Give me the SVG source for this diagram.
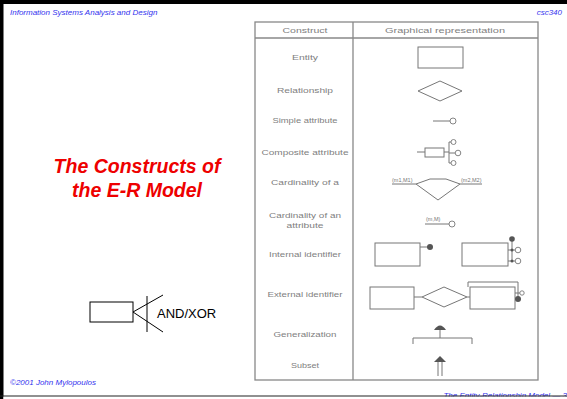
<svg xmlns="http://www.w3.org/2000/svg" width="567" height="399" viewBox="0 0 567 399">
<style>
.hdr{font-family:"Liberation Sans",Arial,sans-serif;font-style:italic;font-size:8px;fill:#3333ee}
.title{font-family:"Liberation Sans",Arial,sans-serif;font-style:italic;font-weight:bold;font-size:19.5px;fill:#ee0000;text-anchor:middle}
.lbl{font-family:"Liberation Sans",Arial,sans-serif;font-size:8px;fill:#808080;text-anchor:middle}
.small{font-family:"Liberation Sans",Arial,sans-serif;font-size:5.5px;fill:#777}
.tb{fill:none;stroke:#888;stroke-width:1.3}
.sh{fill:none;stroke:#777;stroke-width:1}
.dot{fill:#555;stroke:none}
.oc{fill:#fff;stroke:#777;stroke-width:0.9}
.ln{fill:none;stroke:#000;stroke-width:1}
</style>
<rect width="567" height="399" fill="#fff"/>
<!-- frame -->
<rect x="0" y="0" width="567" height="4" fill="#000"/>
<rect x="0" y="0" width="3.5" height="399" fill="#000"/>
<text class="hdr" x="10" y="15">Information Systems Analysis and Design</text>
<text class="hdr" x="562" y="15" text-anchor="end">csc340</text>
<text class="hdr" x="10" y="385">©2001 John Mylopoulos</text>
<text class="hdr" x="567" y="398" text-anchor="end" font-size="9">The Entity-Relationship Model  — 3</text>
<rect x="3.5" y="396.5" width="564" height="3" fill="#fff"/>
<line x1="0" y1="396" x2="567" y2="396" stroke="#222" stroke-width="1.2"/>

<!-- title -->
<g id="title">
<text class="title" x="137" y="173">The Constructs of</text>
<text class="title" x="137" y="197">the E-R Model</text>
</g>

<!-- AND/XOR legend -->
<g id="andxor">
<rect class="ln" x="90" y="302" width="43" height="20"/>
<line class="ln" x1="147" y1="296" x2="147" y2="332"/>
<polyline class="ln" points="163,295 133,312 163,332"/>
<text x="157" y="318" font-family="Liberation Sans,Arial,sans-serif" font-size="13" fill="#000">AND/XOR</text>
</g>

<!-- table -->
<g id="table">
<rect class="tb" x="255" y="22" width="283" height="358"/>
<line class="tb" x1="353" y1="22" x2="353" y2="380"/>
<line class="tb" x1="255" y1="38" x2="538" y2="38"/>
<text class="lbl" x="305" y="33" textLength="45" lengthAdjust="spacingAndGlyphs">Construct</text>
<text class="lbl" x="445" y="33" textLength="120" lengthAdjust="spacingAndGlyphs">Graphical representation</text>
</g>

<g id="entity">
<text class="lbl" x="305" y="60" textLength="26" lengthAdjust="spacingAndGlyphs">Entity</text>
<rect class="sh" x="418" y="47" width="45" height="21"/>
</g>
<g id="relationship">
<text class="lbl" x="305" y="93" textLength="56" lengthAdjust="spacingAndGlyphs">Relationship</text>
<polygon class="sh" points="418,91 440,81 462,91 440,101"/>
</g>
<g id="simple-attribute">
<text class="lbl" x="305" y="123" textLength="65" lengthAdjust="spacingAndGlyphs">Simple attribute</text>
<line class="sh" x1="433" y1="121" x2="450" y2="121"/>
<circle class="oc" cx="453" cy="121" r="3"/>
</g>
<g id="composite-attribute">
<text class="lbl" x="305" y="155" textLength="87" lengthAdjust="spacingAndGlyphs">Composite attribute</text>
<line class="sh" x1="417" y1="152" x2="425" y2="152"/>
<rect class="sh" x="425" y="148" width="19" height="9"/>
<line class="sh" x1="444" y1="152" x2="449" y2="152"/>
<line class="sh" x1="449" y1="142" x2="449" y2="163"/>
<line class="sh" x1="449" y1="142" x2="451" y2="142"/>
<line class="sh" x1="449" y1="153" x2="455" y2="153"/>
<line class="sh" x1="449" y1="163" x2="451" y2="163"/>
<circle class="oc" cx="453.5" cy="142" r="2.5"/>
<circle class="oc" cx="458" cy="153" r="2.8"/>
<circle class="oc" cx="453.5" cy="163" r="2.5"/>
</g>
<g id="cardinality-relationship">
<text class="lbl" x="305" y="185" textLength="68" lengthAdjust="spacingAndGlyphs">Cardinality of a</text>
<text class="small" x="392" y="182">(m1,M1)</text>
<text class="small" x="461" y="182">(m2,M2)</text>
<line class="sh" x1="392" y1="184" x2="416" y2="184"/>
<polygon class="sh" points="416,184 430,179 446,179 460,184 438,200"/>
<line class="sh" x1="460" y1="184" x2="482" y2="184"/>
</g>
<g id="cardinality-attribute">
<text class="lbl" x="305" y="218" textLength="72" lengthAdjust="spacingAndGlyphs">Cardinality of an</text>
<text class="lbl" x="305" y="228" textLength="37" lengthAdjust="spacingAndGlyphs">attribute</text>
<text class="small" x="426" y="221">(m,M)</text>
<line class="sh" x1="425" y1="224" x2="449" y2="224"/>
<circle class="oc" cx="452" cy="224" r="3"/>
</g>
<g id="internal-identifier">
<text class="lbl" x="305" y="257" textLength="72" lengthAdjust="spacingAndGlyphs">Internal identifier</text>
<rect class="sh" x="375" y="243" width="45" height="23"/>
<line class="sh" x1="420" y1="247" x2="428" y2="247"/>
<circle class="dot" cx="430" cy="247" r="3"/>
<rect class="sh" x="462" y="243" width="46" height="23"/>
<line class="sh" x1="512" y1="239" x2="512" y2="261"/>
<circle class="dot" cx="512" cy="239" r="2.8"/>
<line class="sh" x1="508" y1="250" x2="515" y2="250"/>
<line class="sh" x1="508" y1="261" x2="515" y2="261"/>
<circle class="dot" cx="512" cy="250" r="1.5"/>
<circle class="dot" cx="512" cy="261" r="1.5"/>
<circle class="oc" cx="518" cy="250" r="2.8"/>
<circle class="oc" cx="518" cy="261" r="2.8"/>
</g>
<g id="external-identifier">
<text class="lbl" x="305" y="297" textLength="75" lengthAdjust="spacingAndGlyphs">External identifier</text>
<rect class="sh" x="370" y="287" width="44" height="22"/>
<line class="sh" x1="414" y1="297" x2="422" y2="297"/>
<polygon class="sh" points="422,297 444,287 467,297 444,307"/>
<line class="sh" x1="467" y1="297" x2="470" y2="297"/>
<rect class="sh" x="470" y="287" width="45" height="22"/>
<polyline class="sh" points="468,287 468,282 518,282 518,299"/>
<line class="sh" x1="515" y1="293" x2="520" y2="293"/>
<circle class="oc" cx="522" cy="293" r="2.2"/>
<circle class="dot" cx="518" cy="299" r="3"/>
</g>
<g id="generalization">
<text class="lbl" x="305" y="337" textLength="63" lengthAdjust="spacingAndGlyphs">Generalization</text>
<path class="dot" d="M434,330 Q440,321 446,330 Z"/>
<line class="sh" x1="440" y1="330" x2="440" y2="338"/>
<polyline class="sh" points="413,344 413,338 472,338 472,344"/>
</g>
<g id="subset">
<text class="lbl" x="305" y="368" textLength="28" lengthAdjust="spacingAndGlyphs">Subset</text>
<line class="sh" x1="438" y1="362" x2="438" y2="376"/>
<line class="sh" x1="442" y1="362" x2="442" y2="376"/>
<path class="dot" d="M434,362 L440,356 L446,362 Z"/>
</g>
</svg>
